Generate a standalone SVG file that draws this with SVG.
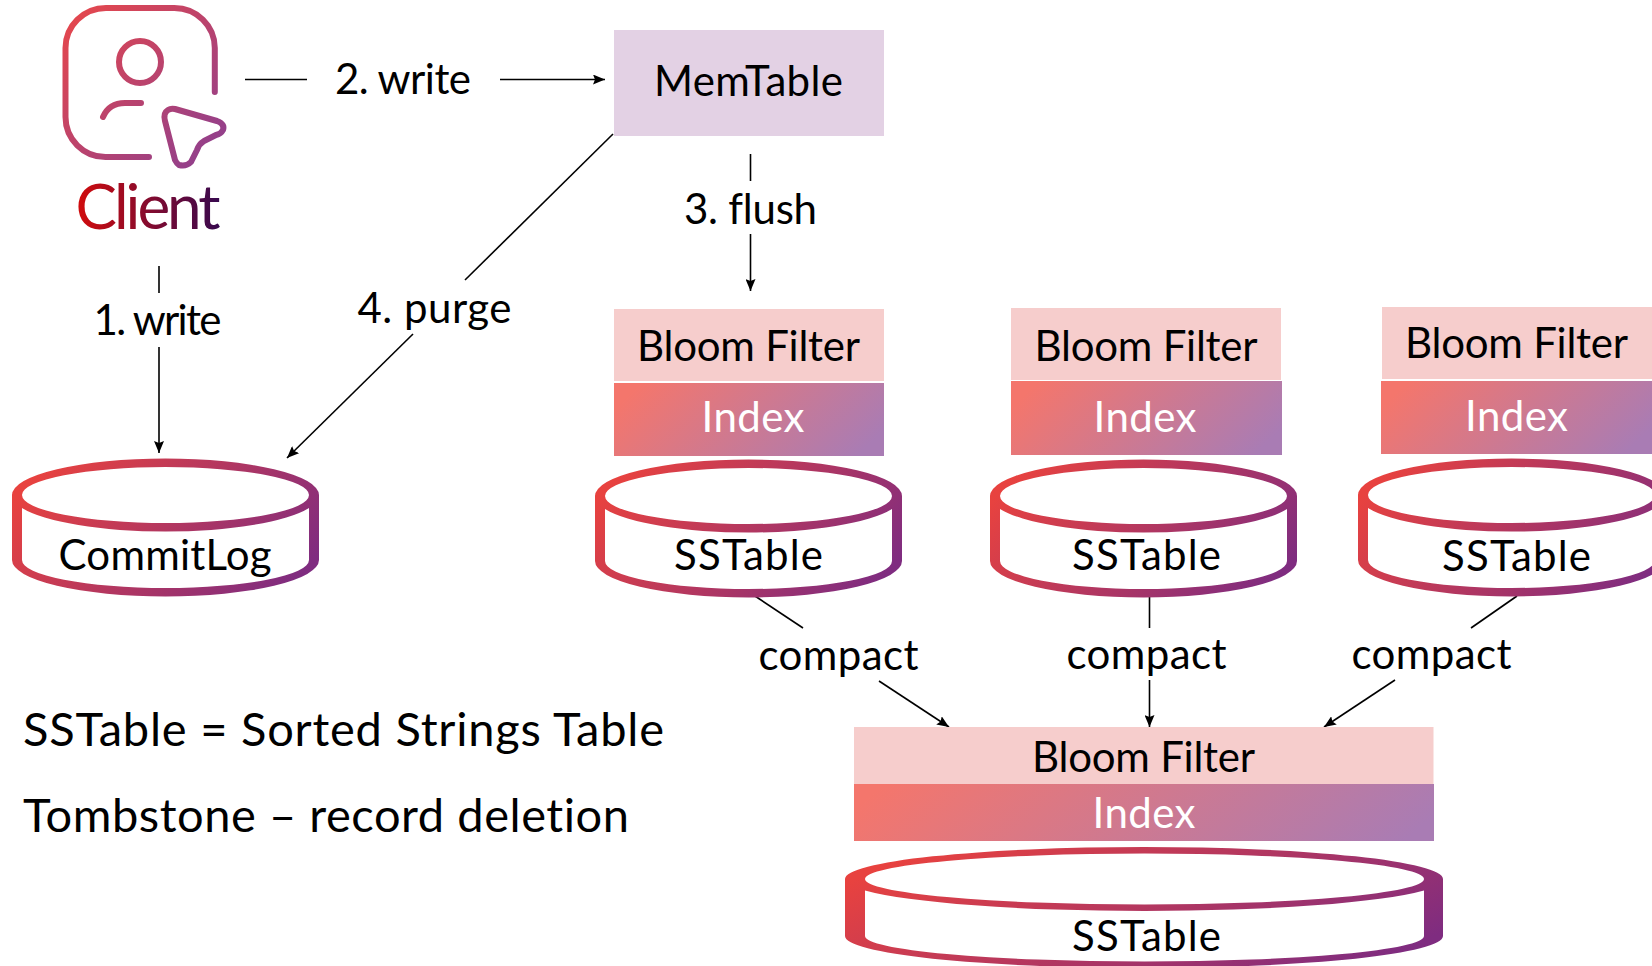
<svg xmlns="http://www.w3.org/2000/svg" width="1652" height="966" viewBox="0 0 1652 966">
<style>
text{font-family:"Lato","Open Sans",sans-serif;font-size:42px;fill:#000;text-anchor:middle;font-variant-ligatures:none}
.w{fill:#fff}
.lg{text-anchor:start;font-size:47px}
.bloom{fill:#f6cdcc}
.idx{fill:url(#gi)}
.cyl{fill:url(#gc);fill-rule:evenodd}
.ln{stroke:#000;stroke-width:1.6;fill:none}
.ar{marker-end:url(#ah)}
.ic{fill:none;stroke:url(#gu);stroke-width:6;stroke-linecap:round;stroke-linejoin:round}
</style>
<defs>
<linearGradient id="gi" x1="0" y1="0.36" x2="1" y2="0.64"><stop offset="0" stop-color="#f4766c"/><stop offset="1" stop-color="#a97cb4"/></linearGradient>
<linearGradient id="gi2" x1="0" y1="0.44" x2="1" y2="0.56"><stop offset="0" stop-color="#f4766c"/><stop offset="1" stop-color="#a97cb4"/></linearGradient>
<linearGradient id="gc" x1="0" y1="0.3" x2="1" y2="0.7"><stop offset="0" stop-color="#e8423f"/><stop offset="1" stop-color="#7f2c80"/></linearGradient>
<linearGradient id="gu" gradientUnits="userSpaceOnUse" x1="65" y1="8" x2="226" y2="166"><stop offset="0" stop-color="#e8474a"/><stop offset="1" stop-color="#8a3f92"/></linearGradient>
<linearGradient id="gt"><stop offset="0" stop-color="#d30c0c"/><stop offset="1" stop-color="#37094f"/></linearGradient>
<marker id="ah" markerUnits="userSpaceOnUse" markerWidth="13" markerHeight="10" refX="12" refY="5" orient="auto"><path d="M0 0L12 5L0 10L2 5Z" fill="#000"/></marker>
<path id="cy" class="cyl" d="M0 36A153.500 36.500 0 0 1 307 36V101A153.500 36.500 0 0 1 0 101ZM10 36A143.500 28 0 0 1 297 36A143.500 28 0 0 1 10 36ZM10 49A153.500 36.500 0 0 0 297 49V101A143.500 28 0 0 1 10 101Z"/>
</defs>
<rect width="1652" height="966" fill="#fff"/>
<g id="connectors">
<path class="ln" d="M159 266V293"/><path class="ln ar" d="M159 347V453"/>
<path class="ln" d="M245 79.500H307"/><path class="ln ar" d="M500 79.500H605"/>
<path class="ln" d="M750.500 154V181"/><path class="ln ar" d="M750.500 234V291"/>
<path class="ln" d="M613 134L465 280"/><path class="ln ar" d="M413 334L287 458"/>
<path class="ln" d="M755 596L803 628"/><path class="ln ar" d="M879 681L949 727"/>
<path class="ln" d="M1149.500 596V628"/><path class="ln ar" d="M1149.500 680V727"/>
<path class="ln" d="M1517 596L1471 628"/><path class="ln ar" d="M1395 680L1324 727"/>
<text x="403" y="94" textLength="136">2. write</text>
<text x="157.500" y="335" textLength="128">1. write</text>
<text x="750.500" y="224" textLength="133">3. flush</text>
<text x="434.500" y="323" textLength="154">4. purge</text>
<text x="838.500" y="670" textLength="160">compact</text>
<text x="1146.500" y="669" textLength="160">compact</text>
<text x="1431.500" y="669" textLength="160">compact</text>
</g>
<g id="client">
<path class="ic" d="M214.800 92V48A40.500 40 0 0 0 174 8H106A40.500 40 0 0 0 65.500 48V117A40 40 0 0 0 105.500 157H149"/>
<circle class="ic" cx="140" cy="62" r="21"/>
<path class="ic" d="M103 117Q109 103 125 103H141"/>
<path class="ic" d="M175 109L217 121Q225 124 223 130Q221 134 216 135L204 141Q199 144 197 150L191 162Q186 167 179 165Q177 164 175 160L165 121Q163 113 168 110Q171 108 175 109Z"/>
<text x="148" y="229" style="font-size:62px;fill:url(#gt)" textLength="145">Client</text>
</g>
<g id="memtable"><rect x="614" y="30" width="270" height="106" fill="#e3d1e4"/><text x="748.500" y="96" textLength="189">MemTable</text></g>
<g id="commitlog"><use href="#cy" x="12" y="459"/><text x="165" y="570" textLength="213">CommitLog</text></g>
<g id="sstable-1">
<rect class="bloom" x="614" y="309" width="270" height="72"/><text x="748.500" y="361" textLength="223">Bloom Filter</text>
<rect class="idx" x="614" y="383" width="270" height="73"/><text class="w" x="753" y="432" textLength="103">Index</text>
<use href="#cy" x="595" y="460"/><text x="748.500" y="570" textLength="149">SSTable</text>
</g>
<g id="sstable-2">
<rect class="bloom" x="1011" y="308" width="270" height="72"/><text x="1146" y="361" textLength="223">Bloom Filter</text>
<rect class="idx" x="1011" y="381" width="271" height="74"/><text class="w" x="1145" y="432" textLength="103">Index</text>
<use href="#cy" x="990" y="460"/><text x="1146.500" y="570" textLength="149">SSTable</text>
</g>
<g id="sstable-3">
<rect class="bloom" x="1382" y="307" width="270" height="72"/><text x="1516.500" y="358" textLength="223">Bloom Filter</text>
<rect class="idx" x="1381" y="381" width="271" height="73"/><text class="w" x="1516.500" y="431" textLength="103">Index</text>
<use href="#cy" x="1358" y="459"/><text x="1516.500" y="571" textLength="149">SSTable</text>
</g>
<g id="sstable-merged">
<rect class="bloom" x="854" y="727" width="579.500" height="57"/><text x="1143.500" y="772" textLength="223">Bloom Filter</text>
<rect x="854" y="784" width="580" height="57" fill="url(#gi2)"/><text class="w" x="1144" y="828" textLength="103">Index</text>
<path class="cyl" d="M845 879A299 32 0 0 1 1443 879V936A299 32 0 0 1 845 936ZM865 879A279.500 25.500 0 0 1 1424 879A279.500 25.500 0 0 1 865 879ZM865 890.400A299 32 0 0 0 1424 890.400V936A279.500 25.500 0 0 1 865 936Z"/>
<text x="1146.500" y="951" textLength="149">SSTable</text>
</g>
<g id="legend">
<text class="lg" x="23" y="746" textLength="641">SSTable = Sorted Strings Table</text>
<text class="lg" x="23" y="832" textLength="606">Tombstone – record deletion</text>
</g>
</svg>
